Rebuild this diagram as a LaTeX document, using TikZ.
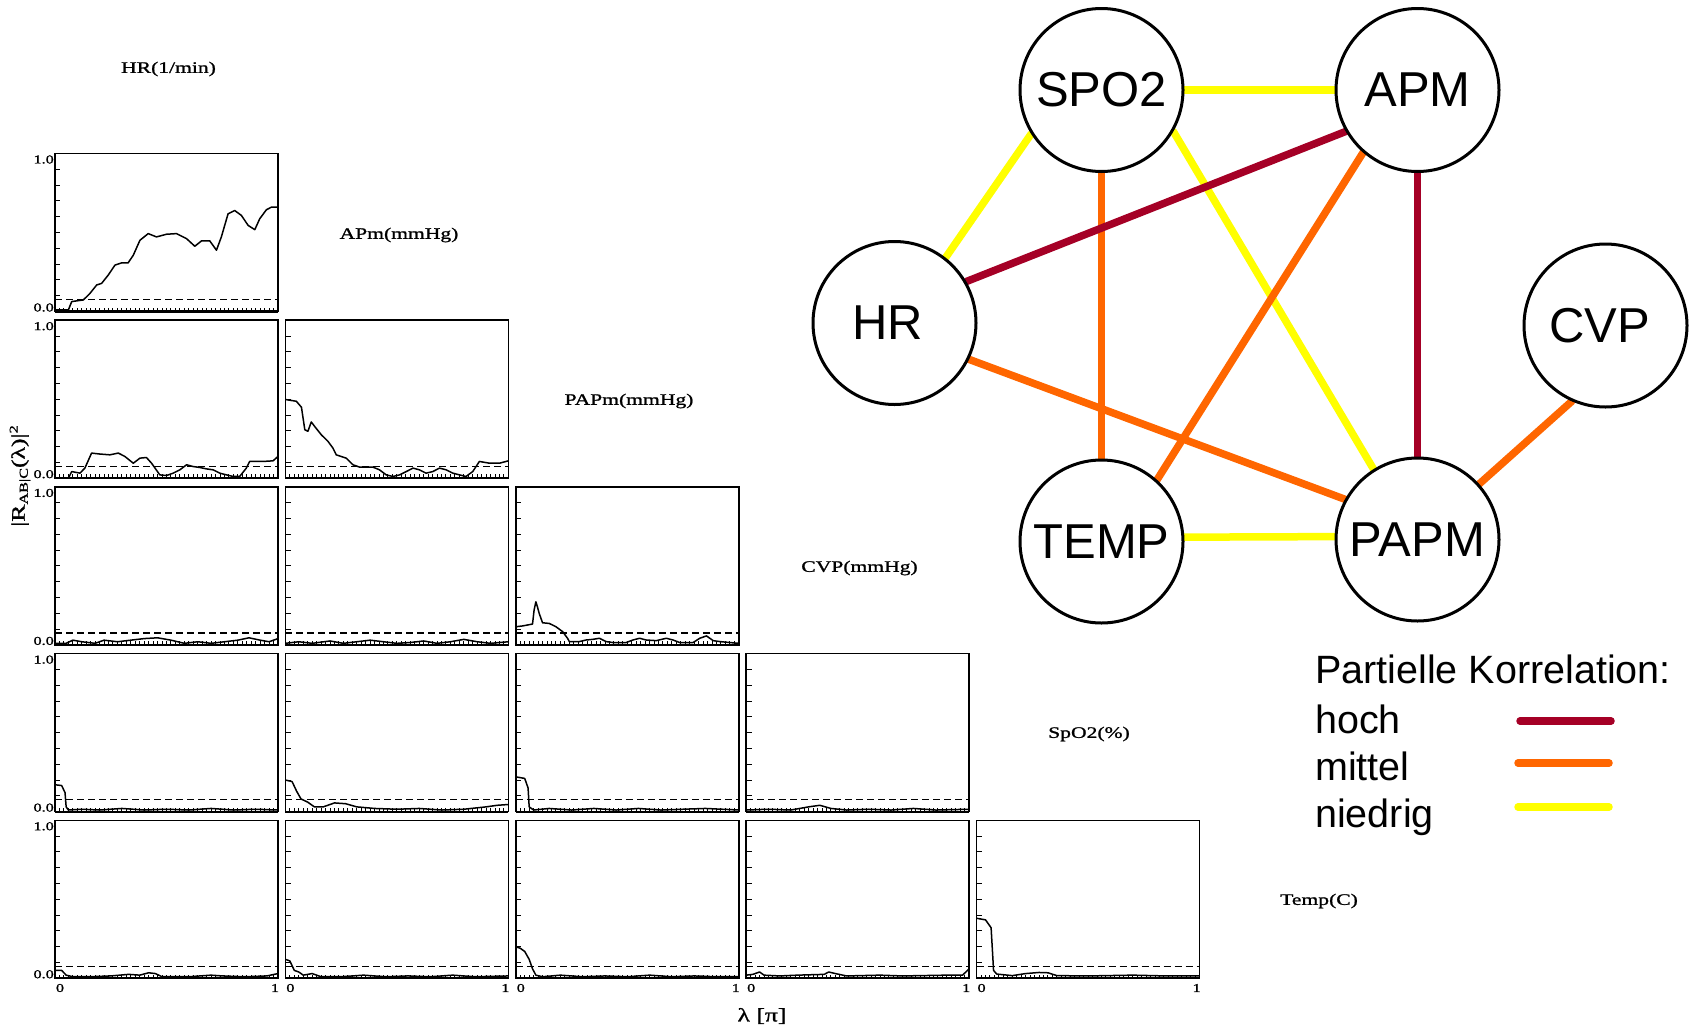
\documentclass[tikz,border=0pt]{standalone}
\usepackage{fontspec}
\setmainfont{Liberation Sans}
\newfontfamily\plotfont[FakeStretch=1.35, FakeBold=1.2]{Liberation Serif}
\usetikzlibrary{backgrounds}

\definecolor{hoch}{HTML}{A50026}
\definecolor{mittel}{HTML}{FF6600}
\definecolor{niedrig}{HTML}{FFFF00}

\tikzset{
  var/.style={circle, draw, fill=white, line width=3pt, minimum size=163pt,
    inner sep=0pt, font=\fontsize{49}{49}\selectfont},
  edge/.style={line width=7.5pt, line cap=round},
  frame/.style={line width=1.5pt},
  tickline/.style={line width=1pt},
  curve/.style={line width=1.5pt, line join=round},
  thresh/.style={line width=1.3pt, dash pattern=on 7pt off 4pt},
  header/.style={font=\plotfont\fontsize{16}{16}\selectfont, inner sep=0pt},
  ticklabel/.style={font=\plotfont\fontsize{12}{12}\selectfont, inner sep=0pt},
  legendtext/.style={font=\fontsize{39.5}{39.5}\selectfont, anchor=base west, inner sep=0pt},
}

% one coherence panel: row, column, curve points in unit coordinates
\newcommand\spectrum[3]{%
  \pgfmathsetmacro\bx{55+230.4*(#2-1)}%
  \pgfmathsetmacro\by{311.5+166.7*(#1-1)}%
  \begin{scope}[shift={(\bx,\by)}, x=223pt, y=158pt]
    \draw[frame] (0,0) rectangle (1,1);
    \draw[line width=2.2pt] (0,0) -- (1,0);
    \foreach \tk in {1,...,9} \draw[tickline] (0,\tk/10) -- ++(0.024,0);
    \foreach \tk in {1,...,49} \draw[tickline] (\tk/50,0) -- ++(0,0.024);
    \draw[thresh] (0,0.075) -- (1,0.075);
    \draw[curve] plot coordinates {#3};
  \end{scope}}

\begin{document}
\begin{tikzpicture}[x=1pt, y=-1pt]
\useasboundingbox (0,0) rectangle (1700,1031);

% ---------------- coherence matrix ----------------
\spectrum{1}{1}{(0,0.01) (0.06,0.01) (0.075,0.063) (0.127,0.073) (0.157,0.115) (0.187,0.168) (0.209,0.178) (0.239,0.231) (0.269,0.294) (0.299,0.308) (0.328,0.308) (0.351,0.356) (0.381,0.451) (0.418,0.493) (0.455,0.472) (0.5,0.489) (0.545,0.493) (0.590,0.461) (0.627,0.413) (0.657,0.447) (0.694,0.447) (0.724,0.388) (0.746,0.472) (0.776,0.618) (0.806,0.639) (0.836,0.608) (0.866,0.545) (0.896,0.518) (0.918,0.587) (0.948,0.644) (0.970,0.660) (1,0.660)}

\spectrum{2}{1}{(0,0) (0.06,0) (0.075,0.042) (0.112,0.032) (0.134,0.064) (0.164,0.159) (0.201,0.153) (0.246,0.148) (0.284,0.159) (0.313,0.138) (0.351,0.095) (0.381,0.127) (0.410,0.131) (0.433,0.095) (0.470,0.021) (0.5,0.017) (0.530,0.032) (0.560,0.053) (0.590,0.085) (0.619,0.074) (0.649,0.068) (0.679,0.059) (0.709,0.053) (0.739,0.032) (0.769,0.021) (0.799,0.011) (0.828,0.011) (0.858,0.064) (0.873,0.106) (0.933,0.106) (0.978,0.110) (1,0.138)}
\spectrum{2}{2}{(0,0.498) (0.049,0.487) (0.072,0.449) (0.087,0.307) (0.101,0.297) (0.116,0.356) (0.131,0.328) (0.161,0.275) (0.191,0.233) (0.213,0.191) (0.228,0.148) (0.273,0.127) (0.303,0.085) (0.333,0.070) (0.393,0.070) (0.422,0.053) (0.452,0.021) (0.482,0.011) (0.512,0.021) (0.542,0.042) (0.572,0.064) (0.601,0.053) (0.631,0.032) (0.661,0.042) (0.691,0.064) (0.721,0.053) (0.751,0.032) (0.781,0.021) (0.810,0.011) (0.840,0.042) (0.870,0.106) (0.915,0.095) (0.960,0.095) (1,0.110)}

\spectrum{3}{1}{(0,0.01) (0.05,0.01) (0.08,0.03) (0.12,0.02) (0.18,0.01) (0.22,0.03) (0.28,0.02) (0.34,0.03) (0.40,0.04) (0.46,0.045) (0.52,0.03) (0.58,0.01) (0.64,0.02) (0.70,0.01) (0.76,0.02) (0.82,0.03) (0.87,0.045) (0.92,0.03) (0.96,0.02) (1,0.04)}
\spectrum{3}{2}{(0,0.01) (0.06,0.02) (0.12,0.01) (0.2,0.025) (0.26,0.01) (0.32,0.02) (0.38,0.03) (0.44,0.02) (0.5,0.01) (0.56,0.015) (0.62,0.025) (0.68,0.01) (0.74,0.02) (0.8,0.035) (0.86,0.02) (0.92,0.01) (1,0.02)}
\spectrum{3}{3}{(0,0.115) (0.030,0.120) (0.075,0.132) (0.082,0.220) (0.090,0.273) (0.097,0.241) (0.105,0.199) (0.120,0.140) (0.150,0.136) (0.180,0.115) (0.210,0.084) (0.232,0.042) (0.240,0.021) (0.285,0.021) (0.315,0.031) (0.345,0.035) (0.375,0.042) (0.405,0.021) (0.435,0.015) (0.495,0.015) (0.525,0.031) (0.555,0.042) (0.585,0.031) (0.630,0.027) (0.675,0.042) (0.705,0.031) (0.735,0.015) (0.795,0.015) (0.825,0.042) (0.855,0.057) (0.885,0.027) (0.915,0.021) (0.960,0.015) (1,0.010)}

\spectrum{4}{1}{(0,0.17) (0.03,0.165) (0.045,0.12) (0.05,0.03) (0.06,0.01) (0.12,0.015) (0.2,0.01) (0.3,0.02) (0.4,0.01) (0.5,0.015) (0.6,0.01) (0.7,0.02) (0.8,0.01) (0.9,0.015) (1,0.01)}
\spectrum{4}{2}{(0,0.2) (0.03,0.19) (0.05,0.13) (0.07,0.08) (0.1,0.06) (0.13,0.03) (0.17,0.03) (0.22,0.055) (0.27,0.05) (0.32,0.03) (0.4,0.02) (0.5,0.015) (0.6,0.02) (0.7,0.01) (0.8,0.015) (0.9,0.03) (0.95,0.04) (1,0.045)}
\spectrum{4}{3}{(0,0.22) (0.04,0.21) (0.055,0.15) (0.06,0.03) (0.08,0.01) (0.15,0.02) (0.25,0.01) (0.35,0.02) (0.45,0.01) (0.55,0.02) (0.65,0.01) (0.75,0.015) (0.85,0.02) (1,0.01)}
\spectrum{4}{4}{(0,0.01) (0.1,0.015) (0.2,0.01) (0.28,0.03) (0.33,0.04) (0.38,0.02) (0.45,0.01) (0.55,0.015) (0.65,0.01) (0.75,0.02) (0.85,0.01) (1,0.015)}

\spectrum{5}{1}{(0,0.05) (0.03,0.05) (0.05,0.02) (0.08,0.01) (0.15,0.01) (0.25,0.015) (0.33,0.025) (0.38,0.02) (0.42,0.035) (0.45,0.03) (0.48,0.01) (0.6,0.01) (0.7,0.02) (0.75,0.015) (0.85,0.01) (0.95,0.015) (1,0.03)}
\spectrum{5}{2}{(0,0.12) (0.02,0.11) (0.04,0.05) (0.06,0.04) (0.08,0.02) (0.12,0.03) (0.16,0.01) (0.25,0.01) (0.35,0.02) (0.45,0.01) (0.55,0.015) (0.65,0.01) (0.75,0.02) (0.85,0.01) (1,0.015)}
\spectrum{5}{3}{(0,0.2) (0.02,0.19) (0.04,0.17) (0.06,0.12) (0.075,0.06) (0.09,0.02) (0.12,0.01) (0.2,0.02) (0.3,0.01) (0.4,0.015) (0.5,0.01) (0.6,0.02) (0.7,0.01) (0.8,0.015) (0.9,0.01) (1,0.01)}
\spectrum{5}{4}{(0,0.02) (0.03,0.025) (0.06,0.04) (0.08,0.02) (0.15,0.015) (0.23,0.02) (0.35,0.025) (0.37,0.04) (0.4,0.03) (0.45,0.015) (0.6,0.02) (0.7,0.015) (0.9,0.02) (0.97,0.02) (1,0.06)}
\spectrum{5}{5}{(0,0.38) (0.04,0.37) (0.065,0.32) (0.072,0.15) (0.076,0.05) (0.09,0.027) (0.16,0.017) (0.22,0.03) (0.28,0.037) (0.32,0.035) (0.36,0.017) (0.5,0.015) (0.7,0.02) (0.85,0.015) (1,0.015)}

% axis values
\foreach \r in {1,...,5} {
  \pgfmathsetmacro\by{311.5+166.7*(\r-1)}
  \node[ticklabel, anchor=east] (one-\r) at (54,\by-152) {1.0};
  \node[ticklabel, anchor=east] (zero-\r) at (54,\by-4) {0.0};
}
\foreach \c in {1,...,5} {
  \pgfmathsetmacro\bx{55+230.4*(\c-1)}
  \node[ticklabel] (xzero-\c) at (\bx+5,988) {0};
  \node[ticklabel] (xone-\c) at (\bx+220,988) {1};
}

% variable names along the diagonal
\node[header] (hHR)   at (168.5,69)  {HR(1/min)};
\node[header] (hAPm)  at (399,235)   {APm(mmHg)};
\node[header] (hPAPm) at (629,401)   {PAPm(mmHg)};
\node[header] (hCVP)  at (859.5,568) {CVP(mmHg)};
\node[header] (hSpO2) at (1089,734)  {SpO2(\%)};
\node[header] (hTemp) at (1319,901)  {Temp(C)};

% axis titles
\node[rotate=90, inner sep=0pt] (ylab) at (20,476)
  {\plotfont\fontsize{19}{19}\selectfont |R\raisebox{-3pt}{\fontsize{12}{12}\selectfont AB|C}(λ)|\raisebox{7pt}{\fontsize{12}{12}\selectfont 2}};
\node[inner sep=0pt, font=\plotfont\fontsize{19}{19}\selectfont] (xlab) at (762,1016) {λ [π]};

% ---------------- partial correlation graph ----------------
\node[var] (SPO2) at (1101.5,90)    {SPO2};
\node[var] (APM)  at (1417.5,90)    {APM};
\node[var] (HR)   at (894.5,323)    {\kern-14pt HR};
\node[var] (CVP)  at (1605.5,325.5) {\kern-12pt CVP};
\node[var] (TEMP) at (1101.5,541.5) {TEMP};
\node[var] (PAPM) at (1417.5,539.5) {PAPM};

\begin{scope}[on background layer]
  \draw[edge, niedrig] (SPO2.0)   -- (APM.180);
  \draw[edge, niedrig] (HR.52)    -- (SPO2.212);
  \draw[edge, mittel]  (SPO2.270) -- (TEMP.90);
  \draw[edge, niedrig] (SPO2.-30) -- (PAPM.122);
  \draw[edge, hoch]    (HR.30)    -- (APM.210);
  \draw[edge, mittel]  (HR.-26)   -- (PAPM.151);
  \draw[edge, mittel]  (APM.229)  -- (TEMP.48);
  \draw[edge, hoch]    (APM.270)  -- (PAPM.90);
  \draw[edge, niedrig] (TEMP.3)   -- (PAPM.178);
  \draw[edge, mittel]  (CVP.246)  -- (PAPM.42);
\end{scope}

% legend
\node[legendtext] (legtitle)   at (1315,683) {Partielle Korrelation:};
\node[legendtext] (leghoch)    at (1315,733) {hoch};
\node[legendtext] (legmittel)  at (1315,780) {mittel};
\node[legendtext] (legniedrig) at (1315,827) {niedrig};
\coordinate (hochA) at (1520,721);    \coordinate (hochB) at (1611,721);
\coordinate (mittelA) at (1518,763);  \coordinate (mittelB) at (1609,763);
\coordinate (niedrigA) at (1518,807); \coordinate (niedrigB) at (1609,807);
\draw[edge, hoch]    (hochA) -- (hochB);
\draw[edge, mittel]  (mittelA) -- (mittelB);
\draw[edge, niedrig] (niedrigA) -- (niedrigB);
\end{tikzpicture}
\end{document}
